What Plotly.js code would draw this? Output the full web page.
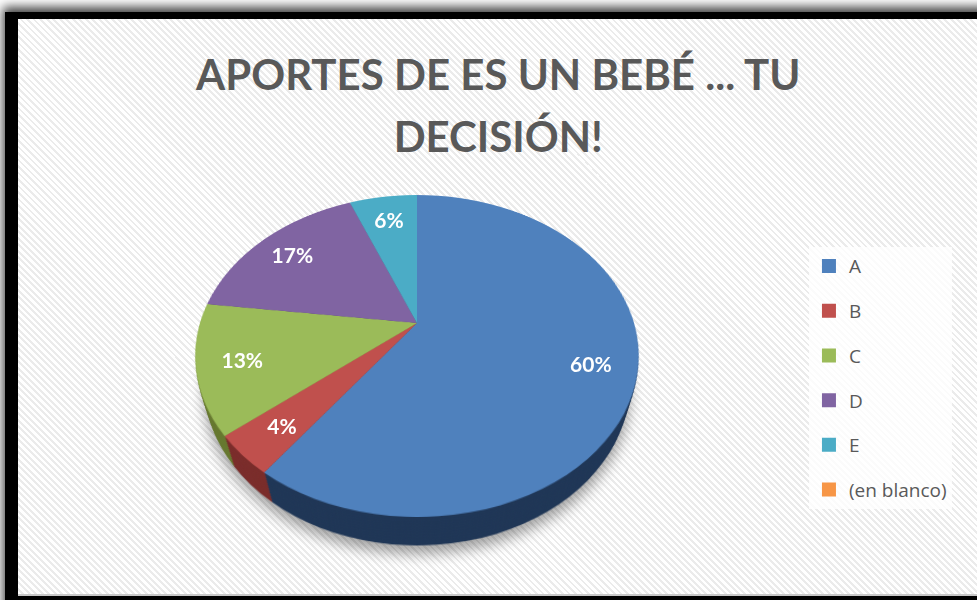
<!DOCTYPE html>
<html><head><meta charset="utf-8">
<script src="https://cdn.plot.ly/plotly-3.0.1.min.js"></script>
<style>
html,body{margin:0;padding:0;width:977px;height:600px;overflow:hidden;background:#fff;position:relative;}
#frame{position:absolute;left:5px;top:12px;width:1100px;height:640px;background:#000;box-shadow:0 -3px 10px 2px rgba(0,0,0,0.75);}
#inner{position:absolute;left:18px;top:19px;width:1000px;height:575px;background:repeating-linear-gradient(45deg,#ffffff 0px,#ffffff 2.6px,#ebebeb 2.6px,#ebebeb 4.6px);border-bottom:2px solid #c8c8c8;}
#main{position:absolute;left:0;top:0;width:977px;height:600px;}
#pie{position:absolute;}
.layer{position:absolute;left:0;top:0;transform-origin:50% 50%;}
.pt{position:absolute;width:0;height:0;}
.lbl{position:absolute;color:#fff;font-family:Lato;font-weight:bold;font-size:21px;transform:translate(-50%,-50%);white-space:nowrap;}
</style>
</head><body>
<div id="frame"></div>
<div id="inner"></div>
<div id="main"></div>
<div id="pie"></div>
<script>
// ---- data ----
const labels = ['A', 'B', 'C', 'D', 'E', '(en blanco)'];
const values = [60, 4, 13, 17, 6, 0];
const topColors = ['#4F81BD', '#C0504D', '#9BBB59', '#8064A2', '#4BACC6', '#F79646'];
const sideColors = ['#1F3656', '#7A2C2A', '#66782F', '#4C3A66', '#2D6F80', '#A8642C'];
const titleLines = ['APORTES DE ES UN BEBÉ ... TU', 'DECISIÓN!'];

// ---- geometry of the 3D pie (style, not data) ----
const R = 217, CX = 417, CY = 323, PERSP = 744, TILT = 44.7, DEPTH = 46, NL = 18, LABEL_R = 0.8;

const pieBox = document.getElementById('pie');
pieBox.style.left = (CX - R) + 'px';
pieBox.style.top = (CY - R) + 'px';
pieBox.style.width = (2 * R) + 'px';
pieBox.style.height = (2 * R) + 'px';

function makeLayer(d) {
  const el = document.createElement('div');
  el.className = 'layer';
  el.style.width = (2 * R) + 'px';
  el.style.height = (2 * R) + 'px';
  el.style.transform = `perspective(${PERSP}px) rotateX(${TILT}deg) translateZ(${-d}px)`;
  pieBox.appendChild(el);
  return el;
}
function pieTrace(colors, withText) {
  return {
    type: 'pie', values: values, labels: labels, sort: false,
    direction: 'clockwise', rotation: 0,
    marker: {colors: colors, line: {width: 0}},
    textinfo: withText ? 'percent' : 'none',
    textposition: 'inside',
    textfont: {family: 'Lato', size: 20, color: '#ffffff', weight: 'bold'},
    hoverinfo: 'none', showlegend: false
  };
}
const pieLayout = {width: 2 * R, height: 2 * R, margin: {l: 0, r: 0, t: 0, b: 0},
  paper_bgcolor: 'rgba(0,0,0,0)', plot_bgcolor: 'rgba(0,0,0,0)', showlegend: false};
const cfg = {staticPlot: true, displayModeBar: false};

// main figure: title + legend (legend entries built from the same arrays)
const legendTraces = labels.map((lab, i) => ({
  type: 'scatter', mode: 'markers', x: [null], y: [null], name: lab,
  marker: {color: topColors[i], symbol: 'square', size: 14},
  legendgroup: 'g' + i, showlegend: true, hoverinfo: 'none'
}));
const mainLayout = {
  width: 977, height: 600, margin: {l: 0, r: 0, t: 0, b: 0},
  paper_bgcolor: 'rgba(0,0,0,0)', plot_bgcolor: 'rgba(0,0,0,0)',
  xaxis: {visible: false}, yaxis: {visible: false},
  title: {text: titleLines.map(s => '<span style="font-size:42px">' + s + '</span>').join('<br>'),
    x: 0.51, xanchor: 'center', y: 0.85, yanchor: 'top', yref: 'container',
    font: {family: 'Lato', size: 48, color: '#595959', weight: 'bold'}},
  showlegend: true,
  legend: {x: 0.828, xanchor: 'left', y: 0.588, yanchor: 'top', traceorder: 'grouped',
    tracegroupgap: 17, bgcolor: 'rgba(255,255,255,0.8)',
    font: {family: 'Open Sans', size: 19, color: '#595959'}}
};

(async function () {
  await Plotly.newPlot('main', legendTraces, mainLayout, cfg);
  for (let i = NL; i >= 1; i--) {
    const el = makeLayer(DEPTH * i / NL);
    if (i === NL) el.style.filter = 'drop-shadow(0 8px 6px rgba(0,0,0,0.35))';
    await Plotly.newPlot(el, [pieTrace(sideColors, false)], pieLayout, cfg);
  }
  const topEl = makeLayer(0);
  await Plotly.newPlot(topEl, [pieTrace(topColors, true)], pieLayout, cfg);
  // label texts come from Plotly; positions from slice mid-angles projected by the same 3D transform
  const total = values.reduce((a, b) => a + b, 0);
  const texts = {};
  topEl.querySelectorAll('g.slice').forEach(g => {
    const pt = g.__data__;
    const t = g.querySelector('.slicetext');
    if (t) { t.style.opacity = 0; if (pt && pt.i !== undefined) texts[pt.i] = t.textContent; }
  });
  let cum = 0;
  values.forEach((v, i) => {
    const mid = (cum + v / 2) / total * 2 * Math.PI;
    cum += v;
    if (!(v > 0)) return;
    const p = document.createElement('div');
    p.className = 'pt';
    p.style.left = (R + LABEL_R * R * Math.sin(mid)) + 'px';
    p.style.top = (R - LABEL_R * R * Math.cos(mid)) + 'px';
    topEl.appendChild(p);
    const r = p.getBoundingClientRect();
    const lbl = document.createElement('div');
    lbl.className = 'lbl';
    lbl.textContent = texts[i] || (Math.round(v / total * 100) + '%');
    lbl.style.left = r.left + 'px';
    lbl.style.top = r.top + 'px';
    document.body.appendChild(lbl);
  });
})();
</script>
</body></html>
